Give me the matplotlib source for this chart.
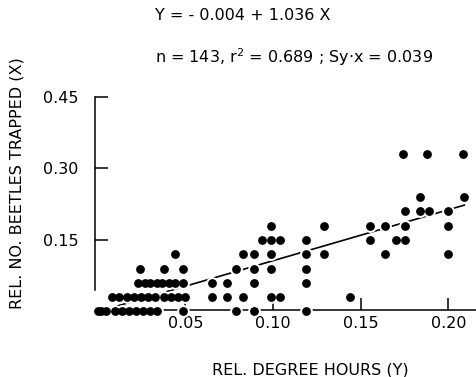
import matplotlib
matplotlib.use("Agg")
import matplotlib.pyplot as plt

# dados (x = horas-grau relativas, y = besouros relativos)
rel_degree_hours = [
    # y = 0.00
    0.000, 0.002, 0.005, 0.010, 0.014, 0.018, 0.022, 0.026, 0.030, 0.034,
    0.049, 0.079, 0.089, 0.119,
    # y = 0.03
    0.008, 0.012, 0.017, 0.021, 0.025, 0.029, 0.033, 0.038, 0.042, 0.046,
    0.050, 0.065, 0.074, 0.083, 0.099, 0.104, 0.144,
    # y = 0.06
    0.023, 0.027, 0.030, 0.034, 0.037, 0.041, 0.044, 0.049, 0.065, 0.074,
    0.089, 0.119,
    # y = 0.09
    0.024, 0.038, 0.049, 0.079, 0.089, 0.099, 0.119,
    # y = 0.12
    0.044, 0.083, 0.089, 0.099, 0.119, 0.129, 0.164, 0.200,
    # y = 0.15
    0.094, 0.099, 0.104, 0.119, 0.155, 0.170, 0.175,
    # y = 0.18
    0.099, 0.129, 0.155, 0.164, 0.175, 0.200,
    # y = 0.21
    0.175, 0.184, 0.189, 0.200,
    # y = 0.24
    0.184, 0.209,
    # y = 0.33
    0.174, 0.188, 0.208,
]
rel_beetles = (
    [0.00] * 14 + [0.03] * 17 + [0.06] * 12 + [0.09] * 7 + [0.12] * 8
    + [0.15] * 7 + [0.18] * 6 + [0.21] * 4 + [0.24] * 2 + [0.33] * 3
)

# reta de regressao (extremos)
line_x = [0.009, 0.209]
line_y = [0.009, 0.223]

x_ticks = [0.05, 0.10, 0.15, 0.20]
x_labels = ["0.05", "0.10", "0.15", "0.20"]
y_ticks = [0.15, 0.30, 0.45]
y_labels = ["0.15", "0.30", "0.45"]

fs = 11.5

fig = plt.figure(figsize=(4.76, 3.77), dpi=100)
ax = fig.add_axes([0.1996, 0.1764, 0.8004, 0.5793])

ax.plot(line_x, line_y, color="black", lw=1.2, zorder=2)
# halo branco por baixo dos pontos
ax.scatter(rel_degree_hours, rel_beetles, s=85, color="white", zorder=4, clip_on=False, linewidths=0)
ax.scatter(rel_degree_hours, rel_beetles, s=40, color="black", zorder=5, clip_on=False, linewidths=0)

ax.set_xlim(-0.00142, 0.21567)
ax.set_ylim(0.002, 0.46)
ax.spines["top"].set_visible(False)
ax.spines["right"].set_visible(False)
ax.spines["left"].set_bounds(0.045, 0.45)
for s in ["left", "bottom"]:
    ax.spines[s].set_linewidth(1.1)
    ax.spines[s].set_zorder(3)

ax.set_xticks(x_ticks)
ax.set_xticklabels(x_labels)
ax.set_yticks(y_ticks)
ax.set_yticklabels(y_labels)
ax.tick_params(direction="in", length=9, width=1.1, labelsize=fs)
ax.tick_params(axis="y", pad=12)
ax.tick_params(axis="x", pad=4)

fig.text(155 / 476, 1 - 15 / 377, "Y = - 0.004 + 1.036 X", ha="left", va="center", fontsize=fs)
fig.text(155 / 476, 1 - 57 / 377, "n = 143, r$^2$ = 0.689 ; Sy$\\cdot$x = 0.039",
         ha="left", va="center", fontsize=fs)
fig.text(17 / 476, 1 - 183 / 377, "REL. NO. BEETLES TRAPPED (X)", rotation=90,
         ha="center", va="center", fontsize=fs)
fig.text(310 / 476, 1 - 370 / 377, "REL. DEGREE HOURS (Y)", ha="center", va="center", fontsize=fs)

fig.savefig("out.png", dpi=100)
